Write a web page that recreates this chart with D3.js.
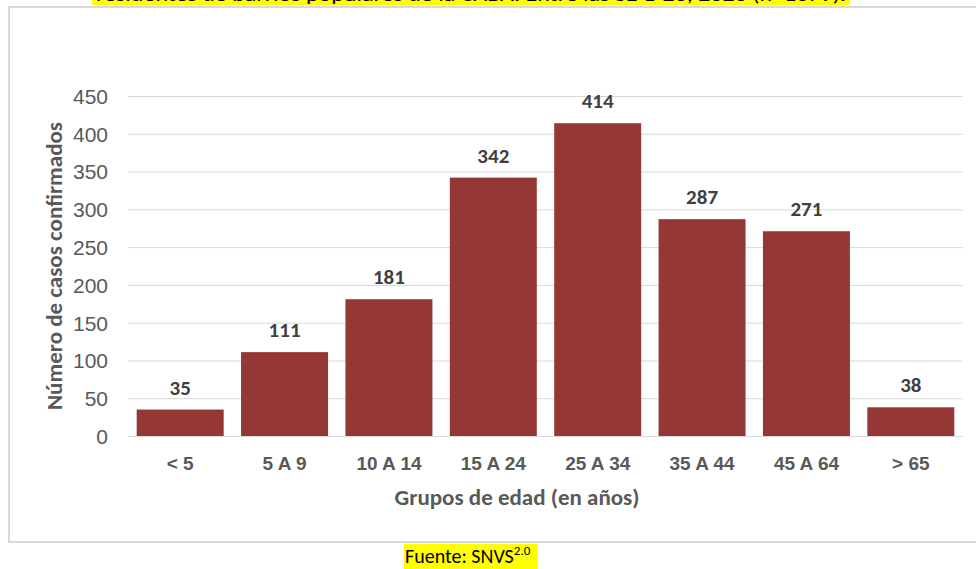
<!DOCTYPE html>
<html>
<head>
<meta charset="utf-8">
<script src="https://cdn.jsdelivr.net/npm/d3@7"></script>
<style>
  html, body { margin: 0; padding: 0; background: #fff; }
  svg { display: block; font-family: Carlito, Calibri, Lato, "Open Sans", sans-serif; }
</style>
</head>
<body>
<svg id="chart" width="976" height="569"></svg>
<script>
// Confirmed cases by age group
const categories = ["< 5", "5 A 9", "10 A 14", "15 A 24", "25 A 34", "35 A 44", "45 A 64", "> 65"];
const cases = [35, 111, 181, 342, 414, 287, 271, 38];
const yTicks = [0, 50, 100, 150, 200, 250, 300, 350, 400, 450];

const titleText = "residentes de barrios populares de la CABA. Entre las SE 1-20, 2020 (n=1679).";
const yTitle = "Número de casos confirmados";
const xTitle = "Grupos de edad (en años)";

const svg = d3.select("#chart");

// heading line, partly above the page edge, with highlight
svg.append("rect").attr("x", 92).attr("y", -20).attr("width", 758).attr("height", 25).attr("fill", "#ffff00");
svg.append("text")
  .attr("x", 96).attr("y", 1)
  .attr("textLength", 750).attr("lengthAdjust", "spacingAndGlyphs")
  .attr("font-size", 18).attr("fill", "#000")
  .text(titleText);

// chart frame
svg.append("rect")
  .attr("x", 9).attr("y", 7).attr("width", 990).attr("height", 535)
  .attr("fill", "#fff").attr("stroke", "#d9d9d9").attr("stroke-width", 2);

const plot = { left: 128, right: 963, top: 96, bottom: 436 };

const x = d3.scaleBand()
  .domain(categories)
  .range([plot.left, plot.right])
  .paddingInner(1 / 6)
  .paddingOuter(1 / 12);

const y = d3.scaleLinear().domain([0, 450]).range([plot.bottom, plot.top]);

// gridlines
svg.append("g")
  .selectAll("line")
  .data(yTicks)
  .join("line")
  .attr("x1", plot.left).attr("x2", plot.right)
  .attr("y1", d => y(d) + 0.5).attr("y2", d => y(d) + 0.5)
  .attr("stroke", "#d9d9d9").attr("stroke-width", 1);

// y axis labels
const yAxis = d3.axisLeft(y).tickValues(yTicks).tickSize(0).tickPadding(0);
const yg = svg.append("g").attr("transform", `translate(${plot.left - 20},0)`).call(yAxis);
yg.select(".domain").remove();
yg.selectAll("text")
  .attr("font-family", null)
  .attr("font-size", 21).attr("fill", "#595959").attr("dy", "0.35em");

// bars
svg.append("g")
  .selectAll("rect")
  .data(cases)
  .join("rect")
  .attr("x", (d, i) => x(categories[i]))
  .attr("width", x.bandwidth())
  .attr("y", d => y(d))
  .attr("height", d => y(0) - y(d))
  .attr("fill", "#953735");

// value labels
svg.append("g")
  .selectAll("text")
  .data(cases)
  .join("text")
  .attr("x", (d, i) => x(categories[i]) + x.bandwidth() / 2)
  .attr("y", d => y(d) - 15)
  .attr("text-anchor", "middle")
  .attr("font-size", 21).attr("font-weight", "bold").attr("fill", "#404040")
  .text(d => d);

// x axis labels
const xAxis = d3.axisBottom(x).tickSize(0).tickPadding(0);
const xg = svg.append("g").attr("transform", `translate(0,${plot.bottom + 20})`).call(xAxis);
xg.select(".domain").remove();
xg.selectAll("text")
  .attr("font-family", null)
  .attr("font-size", 19).attr("font-weight", "bold").attr("fill", "#595959")
  .attr("dy", "0.71em");

// axis titles
svg.append("text")
  .attr("x", 517).attr("y", 505)
  .attr("text-anchor", "middle")
  .attr("font-size", 23).attr("font-weight", "bold").attr("fill", "#595959")
  .text(xTitle);

svg.append("text")
  .attr("transform", "translate(62,266) rotate(-90)")
  .attr("text-anchor", "middle")
  .attr("font-size", 23).attr("font-weight", "bold").attr("fill", "#595959")
  .text(yTitle);

// source note
const src = svg.append("g");
src.append("rect").attr("x", 404).attr("y", 544).attr("width", 134).attr("height", 25).attr("fill", "#ffff00");
const st = src.append("text").attr("x", 405).attr("y", 563).attr("font-size", 20).attr("fill", "#000");
st.append("tspan").text("Fuente: SNVS");
st.append("tspan").attr("font-size", 13).attr("dy", -8).text("2.0");
</script>
</body>
</html>
